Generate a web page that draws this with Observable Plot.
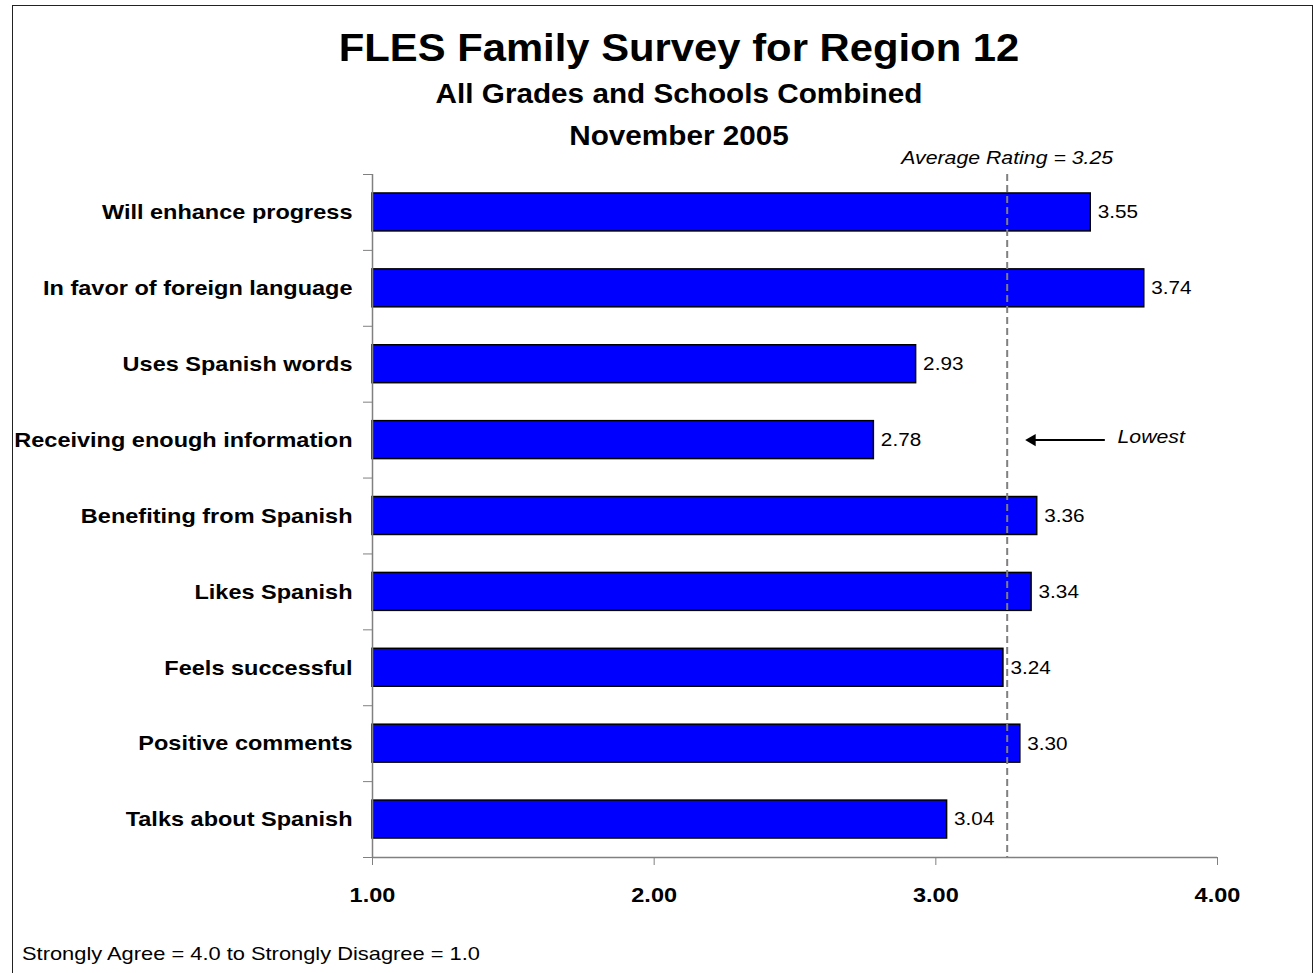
<!DOCTYPE html>
<html><head><meta charset="utf-8">
<script src="https://cdn.jsdelivr.net/npm/d3@7"></script>
<script src="https://cdn.jsdelivr.net/npm/@observablehq/plot@0.6"></script>
<style>
body{margin:0;background:#fff;font-family:"Liberation Sans",Arial,sans-serif;}
#wrap{position:relative;width:1314px;height:973px;overflow:hidden;background:#fff;}
#frame{position:absolute;left:12px;top:5px;width:1301px;height:1000px;border:1.5px solid #222;box-sizing:border-box;}
.t{position:absolute;left:0;width:1358px;text-align:center;font-weight:bold;color:#000;line-height:1;white-space:nowrap;transform:scaleX(1.1);}
#foot{position:absolute;left:22px;font-size:19px;line-height:1;color:#000;white-space:nowrap;transform:scaleX(1.15);transform-origin:left center;}
#chart{position:absolute;left:0;top:0;}
</style></head>
<body>
<div id="wrap">
  <div id="frame"></div>
  <div class="t" id="title" style="top:29px;font-size:38px;">FLES Family Survey for Region 12</div>
  <div class="t" id="sub1" style="top:81px;font-size:27px;">All Grades and Schools Combined</div>
  <div class="t" id="sub2" style="top:123px;font-size:27px;">November 2005</div>
  <div id="chart"></div>
  <div id="foot" style="top:944px;">Strongly Agree = 4.0 to Strongly Disagree = 1.0</div>
</div>
<script>
const categories = [
  "Will enhance progress",
  "In favor of foreign language",
  "Uses Spanish words",
  "Receiving enough information",
  "Benefiting from Spanish",
  "Likes Spanish",
  "Feels successful",
  "Positive comments",
  "Talks about Spanish"
];
const values = [3.55, 3.74, 2.93, 2.78, 3.36, 3.34, 3.24, 3.30, 3.04];
const xTicks = [1, 2, 3, 4];
const avgLabel = "Average Rating";
const lowestLabel = "Lowest";

const fmt = d3.format(".2f");
const rows = categories.map((c, i) => ({category: c, value: values[i], i}));
const avg = d3.mean(values);
const lowest = rows[d3.minIndex(values)];
const boundaries = d3.range(categories.length + 1);
const arrowFrom = 3.6, arrowTo = 3.33, lowestAt = 3.645;

const chart = Plot.plot({
  width: 1314,
  height: 973,
  marginLeft: 372,
  marginRight: 97,
  marginTop: 174,
  marginBottom: 116,
  style: {fontFamily: "'Liberation Sans', Arial, sans-serif", background: "transparent", color: "#000"},
  x: {domain: [1, 4], axis: null},
  y: {domain: [0, categories.length], reverse: true, axis: null},
  marks: [
    Plot.rect(rows, {x1: () => 1, x2: "value", y1: d => d.i + 0.25, y2: d => d.i + 0.75,
      fill: "#0000ff", stroke: "#000", strokeWidth: 1.5}),
    Plot.ruleX([avg], {y1: 0, y2: categories.length, stroke: "#808080", strokeWidth: 2, strokeDasharray: "7,4"}),
    Plot.ruleY([categories.length], {stroke: "#808080", strokeWidth: 1.5}),
    Plot.ruleX([1], {y1: 0, y2: categories.length, stroke: "#808080", strokeWidth: 1.5}),
    Plot.axisY(boundaries, {anchor: "left", tickSize: 9, tickFormat: () => "", stroke: "#808080", label: null}),
    Plot.axisX(xTicks, {anchor: "bottom", tickSize: 8, tickFormat: () => "", stroke: "#808080", label: null}),
    Plot.text(xTicks, {x: d => d, frameAnchor: "bottom", dy: 38, text: d => fmt(d),
      fontSize: 21, fontWeight: "bold", lineAnchor: "middle", fill: "#000"}),
    Plot.text(rows, {frameAnchor: "left", y: d => d.i + 0.5, text: "category", textAnchor: "end", dx: -20,
      fontSize: 21, fontWeight: "bold", fill: "#000", lineAnchor: "middle"}),
    Plot.text(rows, {x: "value", y: d => d.i + 0.5, text: d => fmt(d.value), textAnchor: "start", dx: 7,
      fontSize: 18.5, fill: "#000", lineAnchor: "middle"}),
    Plot.text([avg], {x: d => d, frameAnchor: "top", dy: -11, text: d => `${avgLabel} = ${fmt(d)}`,
      fontSize: 19, fontStyle: "italic", lineAnchor: "bottom", fill: "#000"}),
    Plot.link([lowest], {x1: () => arrowFrom, x2: () => arrowTo + 0.02, y1: d => d.i + 0.5, y2: d => d.i + 0.5,
      stroke: "#000", strokeWidth: 2}),
    Plot.dot([lowest], {x: () => arrowTo + 0.012, y: d => d.i + 0.5, symbol: "triangle", rotate: -90, r: 4.5,
      fill: "#000", stroke: "none"}),
    Plot.text([lowest], {x: () => lowestAt, y: d => d.i + 0.5, dy: -3, text: () => lowestLabel, textAnchor: "start",
      fontSize: 19, fontStyle: "italic", fill: "#000", lineAnchor: "middle"})
  ]
});

// horizontally widen glyphs like the original rendering (scale about each text's anchor point)
chart.querySelectorAll("text").forEach(t => {
  const tr = t.getAttribute("transform");
  if (tr && tr.includes("translate")) t.setAttribute("transform", tr + " scale(1.12,1)");
});
document.getElementById("chart").appendChild(chart);
</script>
</body></html>
